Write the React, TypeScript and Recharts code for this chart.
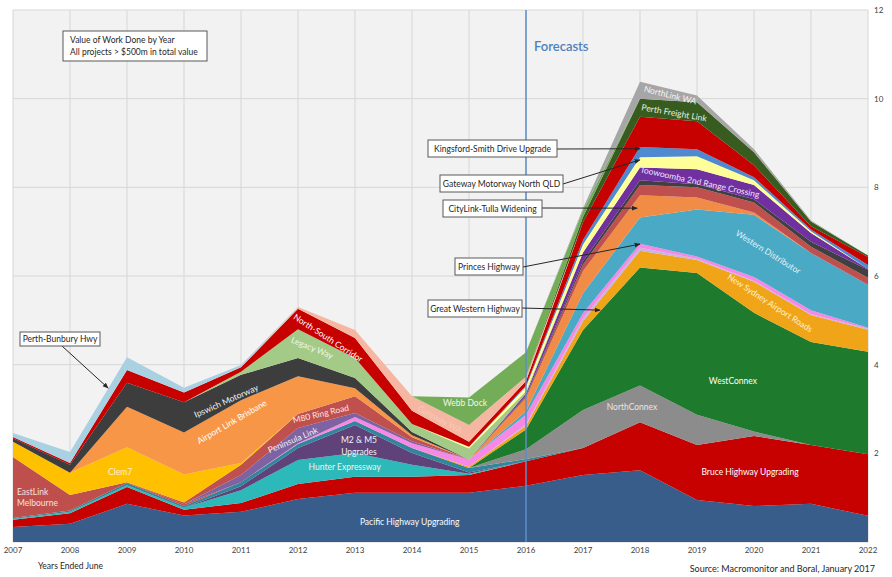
import { Area, AreaChart, CartesianGrid, ReferenceLine, XAxis, YAxis } from "recharts";

// years ended June, 2007 .. 2022
const years = [2007, 2008, 2009, 2010, 2011, 2012, 2013, 2014, 2015, 2016, 2017, 2018, 2019, 2020, 2021, 2022];

// value of work done ($bn) per project, bottom of the stack first
const pacific = [0.34, 0.41, 0.86, 0.6, 0.68, 0.97, 1.11, 1.11, 1.11, 1.27, 1.51, 1.62, 0.95, 0.81, 0.86, 0.59];
const bruce = [0.16, 0.24, 0.38, 0.13, 0.2, 0.34, 0.36, 0.36, 0.4, 0.55, 0.61, 1.08, 1.24, 1.58, 1.33, 1.39];
const hunter = [0.02, 0.03, 0.04, 0.04, 0.29, 0.54, 0.54, 0.27, 0.03, 0, 0, 0, 0, 0, 0, 0];
const m2m5 = [0, 0, 0, 0, 0.09, 0.27, 0.63, 0.27, 0.03, 0, 0, 0, 0, 0, 0, 0];
const otherNsw = [0.02, 0.03, 0.05, 0.04, 0.09, 0.09, 0.09, 0.11, 0.1, 0.05, 0, 0, 0, 0, 0, 0];
const northConnex = [0, 0, 0, 0, 0, 0, 0, 0, 0, 0.22, 0.86, 0.83, 0.68, 0.1, 0, 0];
const westConnex = [0, 0, 0, 0, 0, 0, 0, 0, 0, 0.45, 1.8, 2.66, 3.2, 2.68, 2.32, 2.31];
const airportRoads = [0, 0, 0, 0, 0, 0, 0, 0, 0.03, 0.08, 0.2, 0.38, 0.29, 0.7, 0.61, 0.5];
const greatWestern = [0, 0, 0, 0, 0, 0, 0, 0, 0, 0.03, 0.06, 0.07, 0.03, 0.02, 0.02, 0.02];
const princes = [0, 0, 0, 0, 0, 0.02, 0.09, 0.11, 0.16, 0.22, 0.12, 0.09, 0.05, 0.09, 0.09, 0.02];
const eastLink = [1.38, 0.35, 0.02, 0.04, 0, 0, 0, 0, 0, 0, 0, 0, 0, 0, 0, 0];
const peninsula = [0, 0, 0, 0, 0.16, 0.34, 0.09, 0.04, 0, 0, 0, 0, 0, 0, 0, 0];
const m80 = [0, 0, 0, 0.04, 0.23, 0.32, 0.38, 0.09, 0, 0, 0, 0, 0, 0, 0, 0];
const westernDist = [0, 0, 0, 0, 0, 0, 0, 0, 0, 0.08, 0.45, 0.59, 1.06, 1.4, 1.29, 0.97];
const clem7 = [0.34, 0.5, 0.79, 0.63, 0.04, 0, 0, 0, 0, 0, 0, 0, 0, 0, 0, 0];
const airportLink = [0, 0, 0.91, 0.95, 1.42, 0.85, 0.18, 0.05, 0, 0, 0, 0, 0, 0, 0, 0];
const cityLink = [0, 0, 0, 0, 0, 0, 0, 0, 0, 0.3, 0.5, 0.5, 0.27, 0.05, 0, 0];
const otherVic = [0, 0, 0, 0, 0, 0, 0, 0, 0, 0.03, 0.15, 0.23, 0.23, 0.23, 0.14, 0.16];
const ipswich = [0.08, 0.18, 0.54, 0.68, 0.57, 0.41, 0.23, 0.07, 0, 0, 0, 0, 0, 0, 0, 0];
const otherQld = [0, 0, 0, 0, 0, 0, 0, 0, 0, 0.02, 0.07, 0.11, 0.07, 0.07, 0.11, 0.18];
const toowoomba = [0, 0, 0, 0, 0, 0, 0, 0, 0, 0.05, 0.2, 0.29, 0.34, 0.32, 0.2, 0.02];
const legacy = [0, 0, 0, 0, 0.07, 0.65, 0.45, 0.18, 0.25, 0.05, 0, 0, 0, 0, 0, 0];
const gatewayQld = [0, 0, 0, 0, 0, 0, 0, 0, 0.04, 0.1, 0.18, 0.23, 0.29, 0.11, 0.04, 0];
const kingsford = [0, 0, 0, 0, 0, 0, 0, 0, 0, 0.03, 0.1, 0.23, 0.16, 0.07, 0.04, 0.09];
const northSouth = [0.03, 0.04, 0.29, 0.22, 0.1, 0.46, 0.45, 0.3, 0.11, 0.1, 0.4, 0.68, 0.63, 0.27, 0.07, 0.18];
const gatewayWa = [0, 0, 0, 0, 0, 0.04, 0.18, 0.33, 0.38, 0.1, 0, 0, 0, 0, 0, 0];
const perthFreight = [0, 0, 0, 0, 0, 0, 0, 0, 0, 0, 0.12, 0.41, 0.43, 0.29, 0.11, 0.03];
const webbDock = [0, 0, 0, 0, 0, 0, 0, 0, 0.62, 0.55, 0.15, 0, 0, 0, 0, 0];
const perthBunbury = [0.09, 0.25, 0.29, 0.11, 0.05, 0, 0, 0, 0, 0, 0, 0, 0, 0, 0, 0];
const northLink = [0, 0, 0, 0, 0, 0, 0, 0, 0, 0, 0.05, 0.38, 0.15, 0.07, 0.02, 0];

const yTicks = [0, 2, 4, 6, 8, 10, 12];

const series = [
  { key: "pacific", name: "Pacific Highway Upgrading", color: "#385D8A", values: pacific },
  { key: "bruce", name: "Bruce Highway Upgrading", color: "#C70000", values: bruce },
  { key: "hunter", name: "Hunter Expressway", color: "#2DB9B9", values: hunter },
  { key: "m2m5", name: "M2 & M5 Upgrades", color: "#5F4279", values: m2m5 },
  { key: "otherNsw", name: "Other NSW", color: "#31859C", values: otherNsw },
  { key: "northConnex", name: "NorthConnex", color: "#8C8C8C", values: northConnex },
  { key: "westConnex", name: "WestConnex", color: "#1E7A2C", values: westConnex },
  { key: "airportRoads", name: "New Sydney Airport Roads", color: "#F0A418", values: airportRoads },
  { key: "greatWestern", name: "Great Western Highway", color: "#C9B3E3", values: greatWestern },
  { key: "princes", name: "Princes Highway", color: "#F689E6", values: princes },
  { key: "eastLink", name: "EastLink Melbourne", color: "#BE4F4C", values: eastLink },
  { key: "peninsula", name: "Peninsula Link", color: "#7E62A1", values: peninsula },
  { key: "m80", name: "M80 Ring Road", color: "#C0504D", values: m80 },
  { key: "westernDist", name: "Western Distributor", color: "#4AA9C4", values: westernDist },
  { key: "clem7", name: "Clem7", color: "#FFC000", values: clem7 },
  { key: "airportLink", name: "Airport Link Brisbane", color: "#F79646", values: airportLink },
  { key: "cityLink", name: "CityLink-Tulla Widening", color: "#F08C45", values: cityLink },
  { key: "otherVic", name: "Other VIC", color: "#C0504D", values: otherVic },
  { key: "ipswich", name: "Ipswich Motorway", color: "#3D3D3D", values: ipswich },
  { key: "otherQld", name: "Other QLD", color: "#404040", values: otherQld },
  { key: "toowoomba", name: "Toowoomba 2nd Range Crossing", color: "#7030A0", values: toowoomba },
  { key: "legacy", name: "Legacy Way", color: "#A3CB87", values: legacy },
  { key: "gatewayQld", name: "Gateway Motorway North QLD", color: "#FFFF99", values: gatewayQld },
  { key: "kingsford", name: "Kingsford-Smith Drive Upgrade", color: "#4F8AD0", values: kingsford },
  { key: "northSouth", name: "North-South Corridor", color: "#C70000", values: northSouth },
  { key: "gatewayWa", name: "Gateway WA", color: "#F5B7A2", values: gatewayWa },
  { key: "perthFreight", name: "Perth Freight Link", color: "#385C1F", values: perthFreight },
  { key: "webbDock", name: "Webb Dock", color: "#74AD58", values: webbDock },
  { key: "perthBunbury", name: "Perth-Bunbury Hwy", color: "#A9D1E2", values: perthBunbury },
  { key: "northLink", name: "NorthLink WA", color: "#A6A6A6", values: northLink },
];

const data = years.map((year, i) => {
  const row: Record<string, number> = { year };
  series.forEach((s) => { row[s.key] = s.values[i]; });
  return row;
});

const halfTicks = years.slice(0, -1).flatMap((y) => [y, y + 0.5]).concat([2022]);

// chart geometry
const W = 892;
const H = 577;
const L = 13;
const T = 10;
const R = 868;
const B = 542;
const px = (yr: number) => L + ((yr - 2007) / 15) * (R - L);
const py = (v: number) => B - (v / 12) * (B - T);

const FONT = 'Lato, "Open Sans", "DejaVu Sans", sans-serif';

// in-area labels: [text, year, value, angle, colour]
const areaLabels: [string, number, number, number, string][] = [
  ["Pacific Highway Upgrading", 2013.96, 0.45, 0, "#ffffff"],
  ["Bruce Highway Upgrading", 2019.93, 1.58, 0, "#ffffff"],
  ["WestConnex", 2019.63, 3.63, 0, "#ffffff"],
  ["NorthConnex", 2017.86, 3.05, 0, "#e6e6e6"],
  ["Hunter Expressway", 2012.82, 1.69, 0, "#f2f2f2"],
  ["Peninsula Link", 2011.91, 2.3, -23, "#f2f2f2"],
  ["M80 Ring Road", 2012.4, 2.89, -13, "#fbe3e3"],
  ["Airport Link Brisbane", 2010.84, 2.71, -30, "#ffffff"],
  ["Ipswich Motorway", 2010.74, 3.18, -24, "#f2f2f2"],
  ["Clem7", 2008.88, 1.58, 0, "#fff2cc"],
  ["Legacy Way", 2012.25, 4.38, 22, "#f0f5ea"],
  ["North-South Corridor", 2012.53, 4.6, 33, "#ffffff"],
  ["Webb Dock", 2014.93, 3.14, 0, "#eef6e8"],
  ["Gateway WA", 2014.49, 2.77, 28, "#f8c9b6"],
  ["Toowoomba 2nd Range Crossing", 2019.05, 8.12, 12, "#efe5fb"],
  ["Western Distributor", 2020.25, 6.54, 32, "#e3f1f8"],
  ["New Sydney Airport Roads", 2020.28, 5.39, 33, "#fff2cc"],
  ["Perth Freight Link", 2018.6, 9.68, 10, "#eaf4e1"],
  ["NorthLink WA", 2018.53, 10.08, 14, "#f5f5f5"],
];

// callouts: text, box [x, y, w, h] in px, arrow start in px, target [year, value]
const callouts: { text: string; box: number[]; from: number[]; to: number[] }[] = [
  { text: "Perth-Bunbury Hwy", box: [20, 332, 80, 14], from: [62, 346], to: [2008.67, 3.47] },
  { text: "Kingsford-Smith Drive Upgrade", box: [428, 140, 129, 17], from: [557, 149], to: [2018, 8.87] },
  { text: "Gateway Motorway North QLD", box: [440, 175, 123, 17], from: [563, 184], to: [2018, 8.62] },
  { text: "CityLink-Tulla Widening", box: [443, 200, 99, 17], from: [542, 208], to: [2017.95, 7.53] },
  { text: "Princes Highway", box: [455, 258, 68, 17], from: [523, 267], to: [2018, 6.72] },
  { text: "Great Western Highway", box: [428, 300, 94, 17], from: [522, 308], to: [2017.3, 5.23] },
];

function Overlay() {
  return (
    <svg width={W} height={H} style={{ position: "absolute", left: 0, top: 0, pointerEvents: "none", fontFamily: FONT }}>
      <defs>
        <marker id="arr" viewBox="0 0 10 10" refX="9" refY="5" markerWidth="6" markerHeight="6" orient="auto">
          <path d="M0,1 L10,5 L0,9 z" fill="#262626" />
        </marker>
      </defs>

      {/* title box */}
      <rect x={63} y={31} width={144} height={30} fill="#ffffff" stroke="#595959" strokeWidth={1} />
      <text x={70} y={43} fontSize={8.5} fill="#262626">Value of Work Done by Year</text>
      <text x={70} y={55} fontSize={8.5} fill="#262626">All projects  &gt; $500m in total value</text>

      <text x={px(2016) + 8} y={51} fontSize={13} fontWeight={600} fill="#4F81BD">Forecasts</text>

      {areaLabels.map(([t, yr, v, a, c]) => {
        const x = px(yr);
        const y = py(v);
        return (
          <text key={t} x={x} y={y} fontSize={8.5} fill={c} textAnchor="middle" dominantBaseline="central"
            transform={a ? `rotate(${a} ${x} ${y})` : undefined}>{t}</text>
        );
      })}
      <text x={px(2013.07)} y={py(2.3)} fontSize={8.5} fill="#f2f2f2" textAnchor="middle" dominantBaseline="central">M2 &amp; M5</text>
      <text x={px(2013.07)} y={py(2.3) + 12} fontSize={8.5} fill="#f2f2f2" textAnchor="middle" dominantBaseline="central">Upgrades</text>
      <text x={px(2007.07)} y={py(1.13)} fontSize={8.5} fill="#f4e0e0" dominantBaseline="central">EastLink</text>
      <text x={px(2007.07)} y={py(1.13) + 11} fontSize={8.5} fill="#f4e0e0" dominantBaseline="central">Melbourne</text>

      {callouts.map((c) => (
        <g key={c.text}>
          <line x1={c.from[0]} y1={c.from[1]} x2={px(c.to[0])} y2={py(c.to[1])} stroke="#262626" strokeWidth={1} markerEnd="url(#arr)" />
          <rect x={c.box[0]} y={c.box[1]} width={c.box[2]} height={c.box[3]} fill="#ffffff" stroke="#595959" strokeWidth={1} />
          <text x={c.box[0] + c.box[2] / 2} y={c.box[1] + c.box[3] / 2} fontSize={8.5} fill="#262626" textAnchor="middle" dominantBaseline="central">{c.text}</text>
        </g>
      ))}

      <text x={38} y={569} fontSize={8.5} fill="#262626">Years Ended June</text>
      <text x={875} y={572} fontSize={9} fill="#262626" textAnchor="end">Source:  Macromonitor and Boral, January 2017</text>
    </svg>
  );
}

export default function App() {
  return (
    <div style={{ position: "absolute", left: 0, top: 0, width: W, height: H, background: "#ffffff", fontFamily: FONT }}>
      <AreaChart width={W} height={H} data={data} margin={{ top: T, right: 0, left: L, bottom: 0 }}>
        <XAxis xAxisId="half" type="number" dataKey="year" domain={[2007, 2022]} ticks={halfTicks} hide />
        <CartesianGrid xAxisId="half" fill="#F2F2F2" stroke="#D6D6D6" strokeWidth={1} />
        <XAxis
          dataKey="year"
          type="number"
          domain={[2007, 2022]}
          ticks={years}
          height={35}
          axisLine={false}
          tickLine={false}
          tickSize={3}
          tick={{ fontSize: 8, fill: "#404040" }}
        />
        <YAxis
          orientation="right"
          type="number"
          domain={[0, 12]}
          ticks={yTicks}
          width={W - R}
          axisLine={false}
          tickLine={false}
          tickSize={4}
          tick={{ fontSize: 8, fill: "#404040" }}
          tickFormatter={(v: number) => (v === 0 ? "" : String(v))}
        />
        {series.map((s) => (
          <Area
            key={s.key}
            dataKey={s.key}
            name={s.name}
            stackId="1"
            type="linear"
            stroke="none"
            fill={s.color}
            fillOpacity={1}
            dot={false}
            activeDot={false}
            isAnimationActive={false}
          />
        ))}
        <ReferenceLine x={2016} stroke="#5B8FC9" strokeWidth={1.5} />
      </AreaChart>
      <Overlay />
    </div>
  );
}
